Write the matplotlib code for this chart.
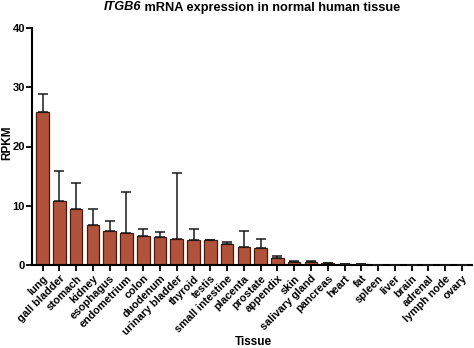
import numpy as np
from matplotlib import pyplot as plt

plt.rcParams['font.family'] = ['Liberation Sans', 'DejaVu Sans']
plt.rcParams['font.weight'] = 'bold'

# ITGB6 RPKM per tissue: mean and upper error
tissues = ['lung', 'gall bladder', 'stomach', 'kidney', 'esophagus',
           'endometrium', 'colon', 'duodenum', 'urinary bladder', 'thyroid',
           'testis', 'small intestine', 'placenta', 'prostate', 'appendix',
           'skin', 'salivary gland', 'pancreas', 'heart', 'fat', 'spleen',
           'liver', 'brain', 'adrenal', 'lymph node', 'ovary']
rpkm = [25.9, 10.8, 9.45, 6.75, 5.8, 5.4, 4.9, 4.7, 4.4, 4.3, 4.25, 3.55,
        3.0, 2.8, 1.25, 0.5, 0.5, 0.35, 0.12, 0.1, 0.03, 0.02, 0.02, 0.01,
        0.01, 0.01]
err = [2.9, 5.1, 4.4, 2.65, 1.6, 6.9, 1.1, 0.8, 11.1, 1.8, 0.0, 0.35,
       2.7, 1.6, 0.35, 0.1, 0.15, 0.05, 0.02, 0.02, 0.0, 0.0, 0.0, 0.0,
       0.0, 0.0]

x = np.arange(len(tissues))

fig = plt.figure(figsize=(4.74, 3.48), dpi=100)
ax = fig.add_axes([32 / 474, 1 - 265 / 348, 440 / 474, 237 / 348])

ax.bar(x, rpkm, width=0.75, color='#b0533a', edgecolor='#4a1a10',
       linewidth=0.9, zorder=2)
ax.errorbar(x, rpkm, yerr=[np.zeros(len(err)), err], fmt='none',
            ecolor='#1a1a1a', elinewidth=1.1, capsize=3.5, capthick=1.1,
            zorder=3)

ax.set_xlim(-0.63, len(tissues) - 0.4)
ax.set_ylim(0, 40)
ax.set_yticks([0, 10, 20, 30, 40])
ax.set_xticks(x)
ax.set_xticklabels(tissues, rotation=45, ha='right', rotation_mode='anchor',
                   fontsize=7.8, fontweight='bold')
ax.tick_params(axis='y', labelsize=8, width=1.3, length=4, pad=1)
ax.tick_params(axis='x', width=1.3, length=4, pad=2)
for lab in ax.get_yticklabels():
    lab.set_fontweight('bold')

for side in ['top', 'right']:
    ax.spines[side].set_visible(False)
for side in ['left', 'bottom']:
    ax.spines[side].set_linewidth(1.5)

fig.text(7 / 474, 1 - 143 / 348, 'RPKM', fontsize=8.5, fontweight='bold',
         rotation=90, ha='center', va='center')
fig.text(253 / 474, 1 - 342 / 348, 'Tissue', fontsize=8.5,
         fontweight='bold', ha='center', va='center')

# title with italic gene name
t1 = fig.text(0, 1 - 7.5 / 348, 'ITGB6', fontsize=9.2, fontweight='bold',
              fontstyle='italic', ha='left', va='center')
t2 = ax.annotate(' mRNA expression in normal human tissue', xy=(1, 0.5),
                 xycoords=t1, fontsize=9.2, fontweight='bold',
                 ha='left', va='center', annotation_clip=False)
fig.canvas.draw()
r = fig.canvas.get_renderer()
w = t1.get_window_extent(r).width + t2.get_window_extent(r).width
t1.set_x((252 - w / 2) / 474)

fig.savefig('out.png', dpi=100)
